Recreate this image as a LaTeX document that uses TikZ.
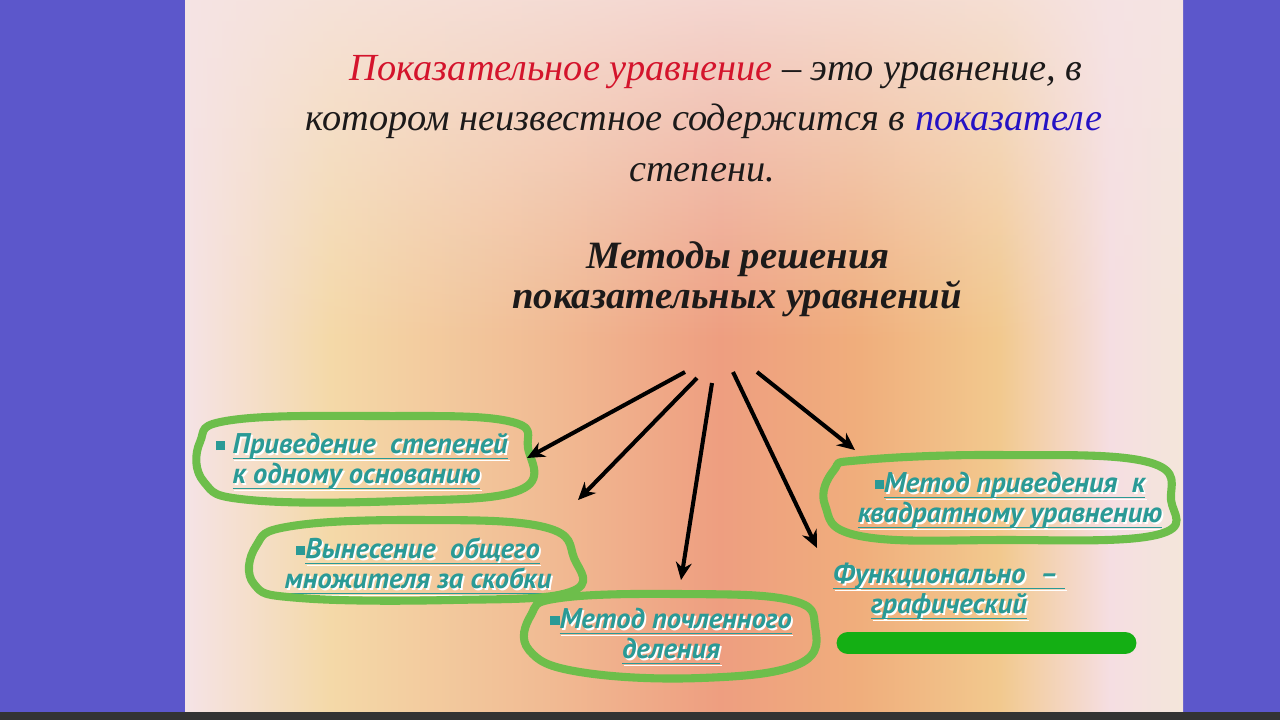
\documentclass[tikz,border=0pt]{standalone}
\usepackage{fontspec}
\setmainfont{Liberation Serif}
\newfontfamily\methfont{PT Sans}
\usetikzlibrary{arrows.meta,fadings}

\definecolor{sidebg}{HTML}{5C57CB}
\definecolor{inkc}{HTML}{1C1A1A}
\definecolor{redc}{HTML}{D4142C}
\definecolor{bluec}{HTML}{2412C4}
\definecolor{tealc}{HTML}{2A9A96}
\definecolor{loopg}{HTML}{6DBE4B}
\definecolor{barg}{HTML}{14AF14}
\definecolor{topwash}{HTML}{F6E4E4}

\tikzfading[name=topfade, top color=transparent!0, bottom color=transparent!100]

% underlined text with a light shadow, as on the slide
\newcommand{\shd}[1]{\rlap{\kern0.5pt\raisebox{-0.5pt}{\color{white}\underline{\smash{#1}}}}\underline{\smash{#1}}\vphantom{Пу}}
\newcommand{\bull}{\textcolor{tealc}{\rule[1pt]{2.6pt}{2.6pt}}}
\newcommand{\tightlines}{\lineskiplimit=-20pt\relax}

\tikzset{
  ttl/.style={font=\fontsize{10.9}{14}\selectfont\itshape, text=inkc, inner sep=0pt},
  hdg/.style={font=\fontsize{11}{14}\selectfont\bfseries\itshape, text=inkc, inner sep=0pt},
  meth/.style={font=\methfont\fontsize{8.1}{8.5}\selectfont\bfseries\itshape\tightlines, text=tealc, inner sep=0pt},
  loop/.style={draw=loopg, line width=2.3pt, line cap=round, line join=round},
  arr/.style={-{Stealth[length=5pt,width=4.5pt]}, line width=1.15pt, black}
}

\begin{document}
\begin{tikzpicture}[x=0.01cm, y=-0.01cm]
    \useasboundingbox (0,0) rectangle (1280,720);

    % Фон слайда
    \fill[sidebg] (0,0) rectangle (1280,712);
    \shade[left color={rgb,255:red,245;green,227;blue,230}, right color={rgb,255:red,244;green,217;blue,168}] (185,0) rectangle (330,712);
    \shade[left color={rgb,255:red,244;green,217;blue,168}, right color={rgb,255:red,241;green,185;blue,146}] (329.5,0) rectangle (560,712);
    \shade[left color={rgb,255:red,241;green,185;blue,146}, right color={rgb,255:red,238;green,158;blue,128}] (559.5,0) rectangle (720,712);
    \shade[left color={rgb,255:red,238;green,158;blue,128}, right color={rgb,255:red,240;green,174;blue,124}] (719.5,0) rectangle (860,712);
    \shade[left color={rgb,255:red,240;green,174;blue,124}, right color={rgb,255:red,242;green,201;blue,142}] (859.5,0) rectangle (1000,712);
    \shade[left color={rgb,255:red,242;green,201;blue,142}, right color={rgb,255:red,245;green,222;blue,226}] (999.5,0) rectangle (1110,712);
    \shade[left color={rgb,255:red,245;green,222;blue,226}, right color={rgb,255:red,244;green,230;blue,218}] (1109.5,0) rectangle (1183,712);
    \fill[topwash, path fading=topfade, fill opacity=0.8] (185,0) rectangle (1183,340);
    \fill[black!80] (0,712) rectangle (1280,720);

    % Определение
    \node[ttl, anchor=base] (title1) at (716,80) {\textcolor{redc}{Показательное уравнение} – это уравнение, в};
    \node[ttl, anchor=base] (title2) at (704,130) {котором неизвестное содержится в \textcolor{bluec}{показателе}};
    \node[ttl, anchor=base] (title3) at (702,181) {степени.};

    % Заголовок
    \node[hdg, anchor=base] (head1) at (738,268) {Методы решения};
    \node[hdg, anchor=base] (head2) at (737,308) {показательных уравнений};

    % Методы
    \node[meth, align=left] (privedenie) at (362,463) {\bull\ \shd{Приведение\ \ степеней}\\\phantom{\bull\ }\shd{к одному\ основанию}};
    \node[meth, align=center] (vynesenie) at (418,568) {\bull\shd{Вынесение\ \ общего}\\\shd{множителя\ за скобки}};
    \node[meth, align=center] (pochlen) at (671,638) {\bull\shd{Метод почленного}\\\shd{деления}};
    \node[meth, align=center] (kvadrat) at (1010,502) {\bull\shd{Метод приведения\ \ к}\\\shd{квадратному уравнению}};
    \node[meth, align=center] (funkc) at (949,593) {\shd{Функционально\ \ –\ }\\\shd{графический}};

    % Обводки от руки
    \draw[loop] plot[smooth cycle, tension=0.7] coordinates {(232,420) (380,416) (508,421) (528,448) (520,490) (400,501) (250,500) (204,482) (200,442)};
    \draw[loop] plot[smooth cycle, tension=0.7] coordinates {(292,526) (420,520) (544,527) (574,558) (570,592) (450,600) (300,598) (254,584) (256,546)};
    \draw[loop] plot[smooth cycle, tension=0.7] coordinates {(560,598) (680,594) (790,600) (815,626) (799,664) (700,678) (580,672) (529,650) (531,615)};
    \draw[loop] plot[smooth cycle, tension=0.7] coordinates {(862,460) (1000,455) (1148,462) (1171,500) (1156,535) (1000,540) (860,536) (825,505) (834,470)};
    \draw[barg, line width=6.5pt, line cap=round] (848,643) -- (1125,643);

    % Стрелки
    \coordinate (s1) at (685,372);
    \coordinate (s2) at (697,378);
    \coordinate (s3) at (712,383);
    \coordinate (s4) at (733,372);
    \coordinate (s5) at (757,372);
    \coordinate (e1) at (527,458);
    \coordinate (e2) at (578,500);
    \coordinate (e3) at (681,580);
    \coordinate (e4) at (817,548);
    \coordinate (e5) at (855,450);
    \foreach \i in {1,...,5}
        \draw[arr] (s\i) -- (e\i);
\end{tikzpicture}
\end{document}
